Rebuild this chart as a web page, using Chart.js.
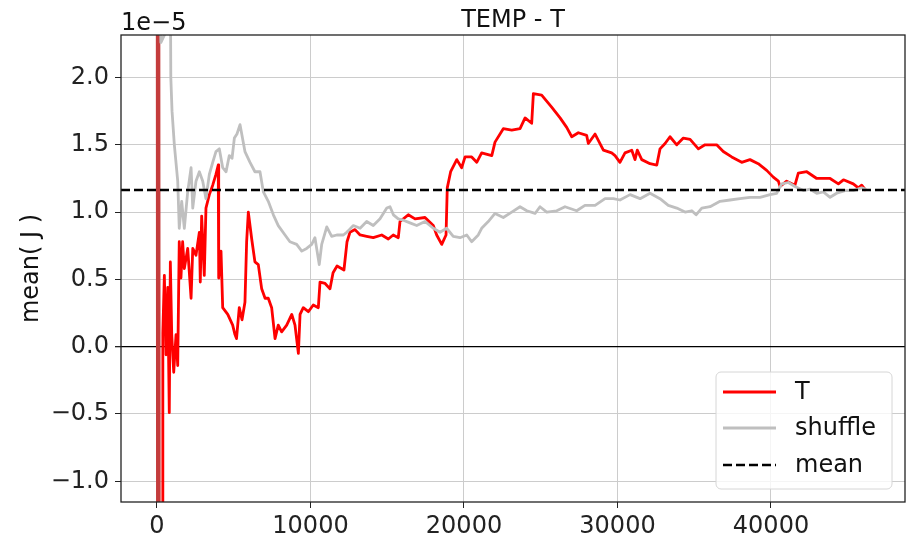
<!DOCTYPE html>
<html lang="en">
<head>
<meta charset="UTF-8">
<title>TEMP - T</title>
<script src="https://cdn.jsdelivr.net/npm/chart.js"></script>
<style>
  body { margin: 0; background: #fff; }
  #wrap { width: 909px; height: 533px; }
</style>
</head>
<body>
<div id="wrap"><canvas id="chart" width="909" height="533"></canvas></div>
<script>
// values are in units of 1e-5
const titleText = 'TEMP - T';
const yLabel = 'mean( J )';
const yOffsetText = '1e\u22125';
const xTicks = [0, 10000, 20000, 30000, 40000];
const yTicks = [-1.0, -0.5, 0.0, 0.5, 1.0, 1.5, 2.0];
const xRange = [-2345, 48730];
const yRange = [-1.154, 2.316];
const meanValue = 1.164;

const tPoints = [
  [0, 6.0], [50, -6.0], [110, 5.0], [170, -5.0], [330, -3.0], [380, 0.10], [480, 0.53], [590, -0.06],
  [700, 0.44], [800, -0.49], [870, 0.63], [960, 0.09], [1090, -0.19], [1240, 0.09], [1350, -0.14],
  [1450, 0.78], [1560, 0.51], [1670, 0.78], [1780, 0.58], [2000, 0.73], [2220, 0.36], [2330, 0.73],
  [2540, 0.68], [2760, 0.85], [2820, 0.48], [2910, 0.97], [3080, 0.53], [3190, 1.03], [3410, 1.13],
  [3630, 1.20], [3840, 1.28], [3990, 1.35], [4020, 0.51], [4170, 0.71], [4280, 0.29], [4610, 0.24],
  [4930, 0.16], [5080, 0.09], [5180, 0.06], [5360, 0.29], [5540, 0.20], [5730, 0.33], [5840, 0.78],
  [5950, 1.00], [6170, 0.80], [6380, 0.63], [6600, 0.61], [6820, 0.43], [7040, 0.36], [7250, 0.36],
  [7470, 0.29], [7690, 0.06], [7900, 0.16], [8120, 0.11], [8450, 0.16], [8780, 0.24], [8990, 0.16],
  [9210, -0.05], [9320, 0.24], [9530, 0.29], [9860, 0.26], [10180, 0.31], [10510, 0.29], [10620, 0.48],
  [10950, 0.47], [11270, 0.43], [11470, 0.55], [11730, 0.60], [12180, 0.57], [12380, 0.78], [12570, 0.85],
  [12900, 0.87], [13230, 0.83], [13660, 0.82], [14090, 0.81], [14640, 0.83], [15070, 0.80], [15390, 0.83],
  [15720, 0.81], [15830, 0.93], [16370, 0.98], [16810, 0.95], [17460, 0.96], [18000, 0.90], [18220, 0.83],
  [18550, 0.76], [18830, 0.83], [18910, 1.18], [19130, 1.30], [19530, 1.39], [19850, 1.33], [20070, 1.41],
  [20500, 1.41], [20830, 1.37], [21150, 1.44], [21810, 1.42], [22020, 1.52], [22560, 1.62], [23110, 1.61],
  [23650, 1.62], [23980, 1.70], [24410, 1.66], [24520, 1.88], [25060, 1.87], [25710, 1.78], [26260, 1.70],
  [26690, 1.63], [27020, 1.56], [27450, 1.59], [27990, 1.57], [28100, 1.51], [28540, 1.58], [29080, 1.46],
  [29620, 1.44], [29840, 1.42], [30160, 1.37], [30490, 1.44], [30930, 1.46], [31140, 1.39], [31290, 1.46],
  [31580, 1.39], [32120, 1.36], [32560, 1.35], [32770, 1.47], [33100, 1.51], [33420, 1.56], [33860, 1.50],
  [34290, 1.55], [34730, 1.54], [35270, 1.47], [35700, 1.50], [36460, 1.50], [36890, 1.45], [37440, 1.41],
  [38090, 1.37], [38630, 1.39], [39170, 1.36], [39720, 1.31], [40150, 1.26], [40480, 1.23], [40590, 1.19],
  [41020, 1.23], [41560, 1.20], [41780, 1.29], [42330, 1.30], [42980, 1.25], [43850, 1.25], [44390, 1.21],
  [44720, 1.24], [45360, 1.21], [45690, 1.18], [45910, 1.20], [46190, 1.16]
];

const shufflePoints = [
  [150, 4.0], [250, 2.26], [500, 2.32], [820, 4.0], [900, 2.0], [980, 1.75], [1130, 1.50], [1350, 1.23],
  [1450, 0.88], [1610, 1.08], [1780, 0.88], [2000, 1.15], [2220, 1.33], [2330, 1.03], [2540, 1.23],
  [2760, 1.30], [2980, 1.23], [3190, 1.10], [3410, 1.28], [3630, 1.37], [3840, 1.45], [4060, 1.47],
  [4280, 1.33], [4500, 1.30], [4710, 1.42], [4890, 1.40], [5040, 1.55], [5210, 1.58], [5410, 1.65],
  [5730, 1.45], [6060, 1.37], [6380, 1.30], [6710, 1.30], [6930, 1.15], [7250, 1.08], [7580, 0.98],
  [7900, 0.90], [8340, 0.83], [8660, 0.78], [9100, 0.76], [9430, 0.71], [9750, 0.73], [10080, 0.76],
  [10290, 0.81], [10570, 0.61], [10730, 0.76], [11060, 0.89], [11380, 0.82], [11710, 0.83], [12140, 0.83],
  [12360, 0.85], [12530, 0.87], [12790, 0.90], [13230, 0.88], [13660, 0.93], [14090, 0.90], [14530, 0.95],
  [14970, 1.03], [15180, 1.04], [15400, 0.98], [15720, 0.95], [16050, 0.94], [16480, 0.92], [16920, 0.90],
  [17460, 0.93], [18000, 0.88], [18440, 0.85], [18870, 0.88], [19300, 0.82], [19740, 0.81], [20180, 0.83],
  [20500, 0.78], [20930, 0.83], [21150, 0.88], [21580, 0.93], [22020, 0.99], [22560, 0.96], [23110, 1.00],
  [23650, 1.04], [24090, 1.01], [24630, 0.99], [24950, 1.04], [25390, 1.00], [26040, 1.01], [26580, 1.04],
  [27340, 1.01], [27880, 1.05], [28540, 1.05], [29190, 1.10], [29730, 1.10], [30160, 1.09], [30820, 1.13],
  [31470, 1.10], [32120, 1.14], [32770, 1.10], [33310, 1.05], [33860, 1.03], [34400, 1.00], [34840, 1.01],
  [35120, 0.98], [35490, 1.03], [36030, 1.04], [36680, 1.08], [37330, 1.09], [37980, 1.10], [38630, 1.11],
  [39290, 1.11], [39940, 1.13], [40370, 1.14], [40700, 1.21], [41130, 1.22], [41560, 1.19], [42110, 1.16],
  [42550, 1.17], [42980, 1.14], [43410, 1.15], [43850, 1.11], [44280, 1.14], [44820, 1.16], [45360, 1.16],
  [45910, 1.18], [46190, 1.17]
];

const FONT = 'DejaVu Sans';
Chart.defaults.font.family = FONT;
Chart.defaults.color = '#222';

function fmtY(v) {
  return v.toFixed(1).replace('-', '\u2212');
}

// title, offset text, y label, frame and legend drawn like matplotlib
const decor = {
  id: 'decor',
  afterDatasetsDraw(chart) {
    const ctx = chart.ctx;
    const a = chart.chartArea;
    ctx.save();
    ctx.strokeStyle = '#222';
    ctx.lineWidth = 1.3;
    ctx.strokeRect(a.left, a.top, a.right - a.left, a.bottom - a.top);

    // legend box
    const lx = 716, ly = 372, lw = 176, lh = 117;
    ctx.beginPath();
    ctx.roundRect(lx, ly, lw, lh, 5);
    ctx.fillStyle = 'rgba(255,255,255,0.8)';
    ctx.fill();
    ctx.strokeStyle = '#d6d6d6';
    ctx.lineWidth = 1;
    ctx.stroke();

    const rows = [392, 428, 465];
    chart.data.datasets.forEach((ds, i) => {
      const y = rows[i];
      ctx.beginPath();
      ctx.setLineDash(ds.borderDash || []);
      ctx.strokeStyle = ds.borderColor;
      ctx.lineWidth = ds.borderWidth;
      ctx.moveTo(723, y);
      ctx.lineTo(776, y);
      ctx.stroke();
      ctx.setLineDash([]);
      ctx.fillStyle = '#111';
      ctx.font = '24px "' + FONT + '"';
      ctx.textAlign = 'left';
      ctx.textBaseline = 'middle';
      ctx.fillText(ds.label, 795, y + 1);
    });
    ctx.restore();
  },
  afterDraw(chart) {
    const ctx = chart.ctx;
    const a = chart.chartArea;
    ctx.save();
    ctx.fillStyle = '#111';
    ctx.textBaseline = 'alphabetic';
    ctx.font = '24px "' + FONT + '"';
    ctx.textAlign = 'center';
    ctx.fillText(titleText, (a.left + a.right) / 2, 27);
    ctx.textAlign = 'left';
    ctx.fillText(yOffsetText, a.left, 30);
    ctx.translate(32, (a.top + a.bottom) / 2);
    ctx.rotate(-Math.PI / 2);
    ctx.textAlign = 'center';
    ctx.textBaseline = 'middle';
    ctx.fillText(yLabel, 0, 0);
    ctx.restore();
  }
};

new Chart(document.getElementById('chart'), {
  type: 'line',
  data: {
    datasets: [
      {
        label: 'T',
        data: tPoints.map(p => ({ x: p[0], y: p[1] })),
        borderColor: '#ff0000',
        borderWidth: 2.8,
        order: 3,
        segment: {
          borderColor: c => (c.p1.parsed.x <= 170 ? '#c43c3c' : undefined)
        }
      },
      {
        label: 'shuffle',
        data: shufflePoints.map(p => ({ x: p[0], y: p[1] })),
        borderColor: '#bfbfbf',
        borderWidth: 2.8,
        order: 2
      },
      {
        label: 'mean',
        data: [{ x: xRange[0], y: meanValue }, { x: xRange[1], y: meanValue }],
        borderColor: '#000000',
        borderWidth: 2.5,
        borderDash: [9, 4],
        order: 1
      }
    ]
  },
  options: {
    responsive: false,
    animation: false,
    devicePixelRatio: 1,
    events: [],
    elements: {
      point: { radius: 0 },
      line: { tension: 0, borderCapStyle: 'butt', borderJoinStyle: 'round' }
    },
    layout: { padding: { top: 35, right: 4, left: 0, bottom: 0 } },
    plugins: {
      legend: { display: false },
      tooltip: { enabled: false },
      title: { display: false }
    },
    scales: {
      x: {
        type: 'linear',
        min: xRange[0],
        max: xRange[1],
        afterBuildTicks: s => { s.ticks = xTicks.map(v => ({ value: v })); },
        afterFit: s => { s.height = 31; },
        border: { display: false },
        grid: { color: '#cccccc', lineWidth: 1, tickColor: '#222', tickLength: 6 },
        ticks: {
          font: { size: 24 },
          color: '#222',
          padding: 4,
          maxRotation: 0,
          autoSkip: false,
          callback: v => String(v)
        }
      },
      y: {
        type: 'linear',
        min: yRange[0],
        max: yRange[1],
        afterBuildTicks: s => { s.ticks = yTicks.map(v => ({ value: v })); },
        afterFit: s => { s.width = 121; },
        border: { display: false },
        grid: {
          color: c => (c.tick && c.tick.value === 0 ? '#000000' : '#cccccc'),
          lineWidth: c => (c.tick && c.tick.value === 0 ? 1.3 : 1),
          tickColor: '#222',
          tickLength: 6
        },
        ticks: {
          font: { size: 24 },
          color: '#222',
          padding: 6,
          autoSkip: false,
          callback: v => fmtY(v)
        }
      }
    }
  },
  plugins: [decor]
});
</script>
</body>
</html>
